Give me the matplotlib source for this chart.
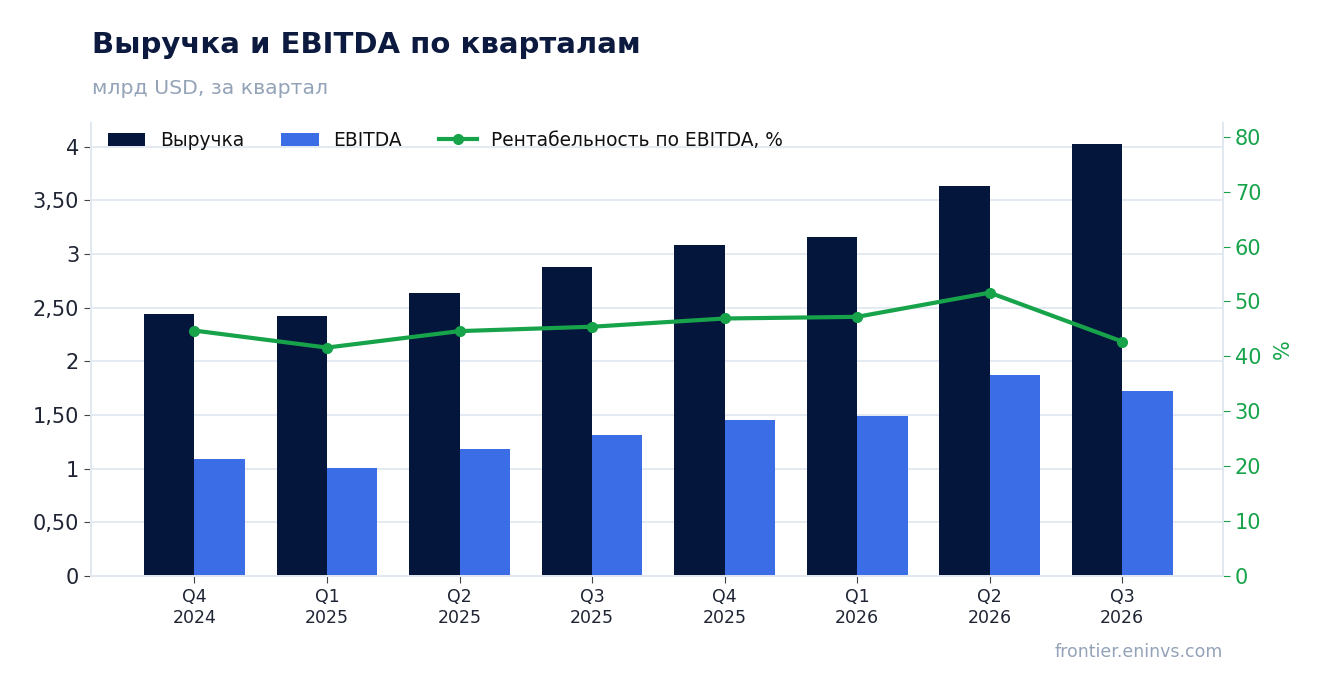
import numpy as np
import matplotlib.pyplot as plt
from matplotlib.ticker import FuncFormatter

# data
quarters = ['Q4\n2024', 'Q1\n2025', 'Q2\n2025', 'Q3\n2025', 'Q4\n2025', 'Q1\n2026', 'Q2\n2026', 'Q3\n2026']
revenue = [2.44, 2.42, 2.64, 2.88, 3.08, 3.16, 3.63, 4.02]
ebitda = [1.09, 1.01, 1.18, 1.31, 1.45, 1.49, 1.87, 1.72]
margin = [44.7, 41.6, 44.6, 45.4, 46.9, 47.2, 51.6, 42.7]

NAVY = '#05163d'
BLUE = '#3b6de6'
GREEN = '#16a34a'
GRID = '#e2e8f0'
GREY = '#94a3b8'
TEXT = '#1e2433'

plt.rcParams['font.family'] = ['DejaVu Sans']

fig = plt.figure(figsize=(13.23, 6.93), dpi=100)
ax = fig.add_axes([0.0688, 0.1688, 0.8556, 0.6537])
ax2 = ax.twinx()

x = np.arange(len(quarters))
w = 0.38
ax.bar(x - w / 2, revenue, w, color=NAVY, label='Выручка', zorder=2)
ax.bar(x + w / 2, ebitda, w, color=BLUE, label='EBITDA', zorder=2)
ax2.plot(x, margin, color=GREEN, lw=3, marker='o', ms=7, label='Рентабельность по EBITDA, %', zorder=3)

ax.set_xlim(-0.78, 7.76)
ax.set_ylim(0, 4.22)
ax2.set_ylim(0, 82.5)
ax.set_yticks(np.arange(0, 4.01, 0.5))
ax2.set_yticks(np.arange(0, 81, 10))

def comma(v, pos):
    if abs(v - round(v)) < 1e-9:
        return str(int(round(v)))
    return ('%.2f' % v).replace('.', ',')

ax.yaxis.set_major_formatter(FuncFormatter(comma))
ax.set_xticks(x)
ax.set_xticklabels(quarters, fontsize=12.5)

ax.grid(axis='y', color=GRID, lw=1.3, zorder=0)
ax.set_axisbelow(True)
for a in (ax, ax2):
    for s in a.spines.values():
        s.set_color(GRID)
        s.set_linewidth(1.3)
    a.spines['top'].set_visible(False)

ax.tick_params(axis='y', labelsize=15, color='#444444', labelcolor=TEXT, length=5)
ax.tick_params(axis='x', color='#444444', labelcolor=TEXT, length=5)
ax2.tick_params(axis='y', labelsize=15, colors=GREEN, length=5)
ax2.set_ylabel('%', color=GREEN, fontsize=15, labelpad=8)

h1, l1 = ax.get_legend_handles_labels()
h2, l2 = ax2.get_legend_handles_labels()
ax.legend(h1 + h2, l1 + l2, loc='upper left', bbox_to_anchor=(0.0, 1.02), ncol=3,
          frameon=False, fontsize=13.4, handlelength=2.0, handleheight=0.7,
          handletextpad=0.8, columnspacing=2.0, labelcolor='#111111')

fig.text(0.0695, 0.935, 'Выручка и EBITDA по кварталам', fontsize=21, fontweight='bold',
         color='#0b1a3e', va='center')
fig.text(0.0695, 0.873, 'млрд USD, за квартал', fontsize=14.7, color=GREY, va='center')
fig.text(0.9244, 0.059, 'frontier.eninvs.com', fontsize=12.5, color=GREY, ha='right', va='center')

fig.savefig('out.png', dpi=100)
